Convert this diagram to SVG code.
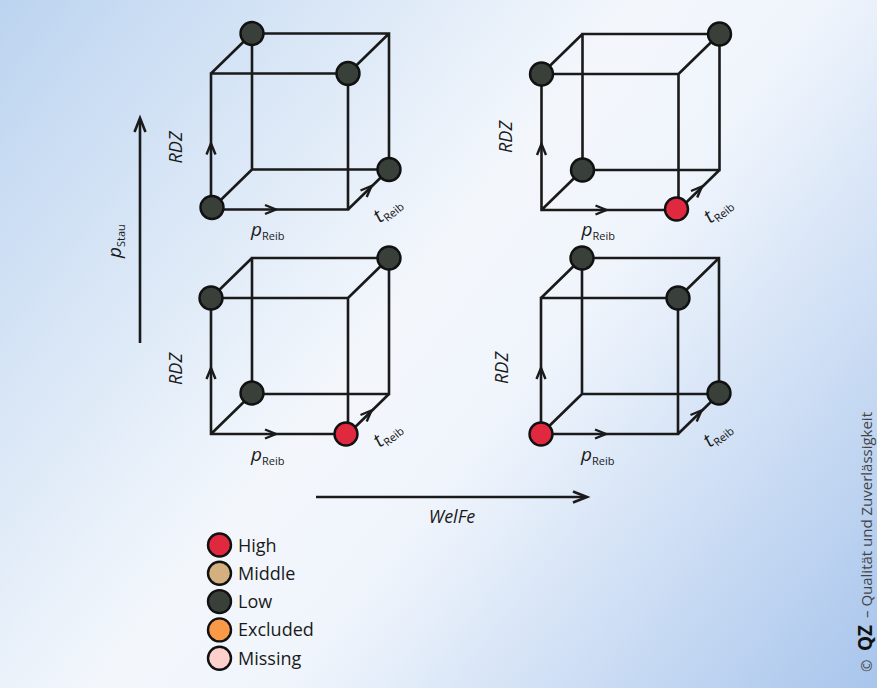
<svg xmlns="http://www.w3.org/2000/svg" xmlns:xlink="http://www.w3.org/1999/xlink" width="877" height="688" viewBox="0 0 877 688">
<style>
.edge{fill:none;stroke:#1a1a1a;stroke-width:2.6}
.arr{fill:none;stroke:#1a1a1a;stroke-width:2.4;stroke-linejoin:miter}
.axis{fill:none;stroke:#1a1a1a;stroke-width:2.6}
.dot{stroke:#111;stroke-width:2.4}
.low{fill:#39403a}
.high{fill:#e0283f}
.mid{fill:#d5b07f}
.exc{fill:#fa9a48}
.mis{fill:#fdd0cb}
.lbl{font-family:"Open Sans","Noto Sans",sans-serif;fill:#1a1a1a}
.it{font-style:italic}
.sub{font-size:11px;font-style:normal}
.leg{font-family:"Open Sans","Noto Sans",sans-serif;font-size:18px;fill:#1a1a1a}
.copy{font-family:"Open Sans","Noto Sans",sans-serif;font-size:15px;fill:#444}
.qz{font-family:"Open Sans","Noto Sans",sans-serif;font-size:19px;font-weight:bold;fill:#111}
</style>
<defs>
<linearGradient id="bg" gradientUnits="userSpaceOnUse" x1="0" y1="0" x2="877" y2="688">
<stop offset="0" stop-color="#bcd4f0"/>
<stop offset="0.45" stop-color="#f3f7fc"/>
<stop offset="0.58" stop-color="#f0f5fc"/>
<stop offset="1" stop-color="#a8c5ec"/>
</linearGradient>
<g id="cube">
<path class="edge" d="M0,0H137V-136H0Z M41,-40H178V-176H41Z M0,0L41,-40 M137,0L178,-40 M137,-136L178,-176 M0,-136L41,-176"/>
<path class="arr" d="M-4.5,-55L0,-66L4.5,-55"/>
<path class="arr" d="M54,-4.5L65,0L54,4.5"/>
<path class="arr" d="M155.7,-12.6L160.5,-23.5L149.5,-19"/>
</g>
</defs>
<rect width="877" height="688" fill="url(#bg)"/>

<g id="connectors">
<path class="axis" d="M140,343V119"/>
<path class="axis" d="M134.5,132L140,118L145.5,132"/>
<path class="axis" d="M316,497H585"/>
<path class="axis" d="M573,491.5L587,497L573,502.5"/>
</g>

<g id="axis-labels">
<text class="lbl it" font-size="19" transform="translate(121,258) rotate(-90)">p<tspan class="sub" dy="4">Stau</tspan></text>
<text class="lbl it" font-size="18" x="452" y="523" text-anchor="middle">WelFe</text>
</g>

<g id="cube-top-left" transform="translate(211,209.5)">
<use xlink:href="#cube"/>
<text class="lbl it" font-size="18" text-anchor="middle" transform="translate(-29.5,-62) rotate(-90)">RDZ</text>
<text class="lbl it" font-size="19" x="40" y="26">p<tspan class="sub" dy="4">Reib</tspan></text>
<text class="lbl it" font-size="20" transform="translate(169,14) rotate(-40)">t<tspan class="sub" dy="4">Reib</tspan></text>
<circle class="dot low" cx="41" cy="-176" r="11.5"/>
<circle class="dot low" cx="137" cy="-136" r="11.5"/>
<circle class="dot low" cx="178" cy="-40" r="11.5"/>
<circle class="dot low" cx="1" cy="-2" r="11.5"/>
</g>

<g id="cube-top-right" transform="translate(541.5,210)">
<use xlink:href="#cube"/>
<text class="lbl it" font-size="18" text-anchor="middle" transform="translate(-30,-73) rotate(-90)">RDZ</text>
<text class="lbl it" font-size="19" x="40" y="26">p<tspan class="sub" dy="4">Reib</tspan></text>
<text class="lbl it" font-size="20" transform="translate(169,14) rotate(-40)">t<tspan class="sub" dy="4">Reib</tspan></text>
<circle class="dot low" cx="178" cy="-176" r="11.5"/>
<circle class="dot low" cx="0" cy="-136" r="11.5"/>
<circle class="dot low" cx="41" cy="-40" r="11.5"/>
<circle class="dot high" cx="135" cy="-1" r="11.5"/>
</g>

<g id="cube-bottom-left" transform="translate(211,434)">
<use xlink:href="#cube"/>
<text class="lbl it" font-size="18" text-anchor="middle" transform="translate(-29.5,-65) rotate(-90)">RDZ</text>
<text class="lbl it" font-size="19" x="40" y="27">p<tspan class="sub" dy="4">Reib</tspan></text>
<text class="lbl it" font-size="20" transform="translate(169,14) rotate(-40)">t<tspan class="sub" dy="4">Reib</tspan></text>
<circle class="dot low" cx="0" cy="-136" r="11.5"/>
<circle class="dot low" cx="178" cy="-176" r="11.5"/>
<circle class="dot low" cx="41" cy="-41" r="11.5"/>
<circle class="dot high" cx="135" cy="0" r="11.5"/>
</g>

<g id="cube-bottom-right" transform="translate(541,434)">
<use xlink:href="#cube"/>
<text class="lbl it" font-size="18" text-anchor="middle" transform="translate(-33,-66) rotate(-90)">RDZ</text>
<text class="lbl it" font-size="19" x="40" y="27">p<tspan class="sub" dy="4">Reib</tspan></text>
<text class="lbl it" font-size="20" transform="translate(169,14) rotate(-40)">t<tspan class="sub" dy="4">Reib</tspan></text>
<circle class="dot low" cx="41" cy="-176" r="11.5"/>
<circle class="dot low" cx="137" cy="-136" r="11.5"/>
<circle class="dot low" cx="178" cy="-41" r="11.5"/>
<circle class="dot high" cx="0" cy="0" r="11.5"/>
</g>

<g id="legend">
<g id="legend-high"><circle class="dot high" cx="219.5" cy="545" r="11.5"/><text class="leg" x="238" y="551.5">High</text></g>
<g id="legend-middle"><circle class="dot mid" cx="219.5" cy="573.3" r="11.5"/><text class="leg" x="238" y="579.8">Middle</text></g>
<g id="legend-low"><circle class="dot low" cx="219.5" cy="601.6" r="11.5"/><text class="leg" x="238" y="608.1">Low</text></g>
<g id="legend-excluded"><circle class="dot exc" cx="219.5" cy="629.9" r="11.5"/><text class="leg" x="238" y="636.4">Excluded</text></g>
<g id="legend-missing"><circle class="dot mis" cx="219.5" cy="658.2" r="11.5"/><text class="leg" x="238" y="664.7">Missing</text></g>
</g>

<g id="copyright">
<text class="copy" transform="translate(872,672) rotate(-90)">©</text>
<text class="qz" transform="translate(872,651) rotate(-90)">QZ</text>
<text class="copy" textLength="206" lengthAdjust="spacingAndGlyphs" transform="translate(872,618) rotate(-90)">– Qualität und Zuverlässigkeit</text>
</g>
</svg>
